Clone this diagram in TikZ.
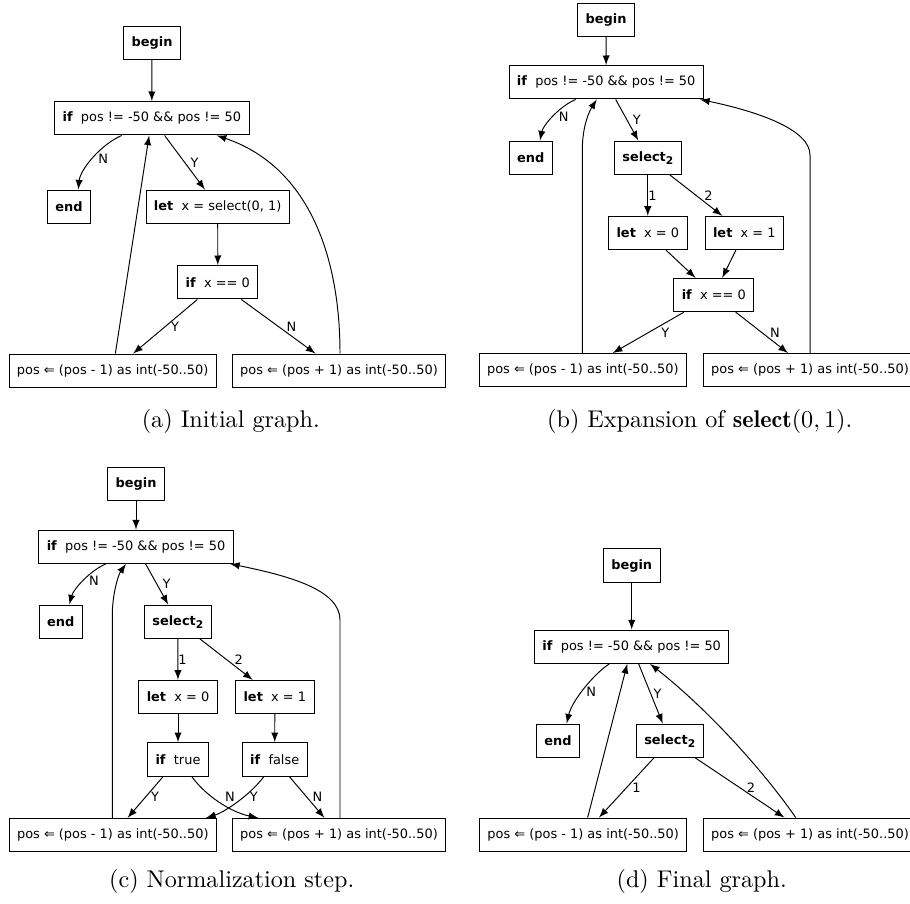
\documentclass[tikz,border=0pt]{standalone}
\usepackage{amsmath}
\usepackage{fontspec}
\newfontfamily\gvfont{DejaVu Sans}
\usetikzlibrary{arrows,positioning}
\newcommand{\selsub}{\textbf{select\raisebox{-0.4ex}{\fontsize{4.4}{5}\selectfont 2}}}

\begin{document}
\begin{tikzpicture}[x=0.414pt, y=-0.414pt,
  blk/.style={draw, rectangle, font=\gvfont\fontsize{5.35}{6.4}\selectfont,
    minimum height=13.8pt, inner xsep=3.3pt, inner ysep=0pt},
  lbl/.style={font=\gvfont\fontsize{5.35}{6.4}\selectfont, inner sep=2.2pt},
  flow/.style={-latex},
  captxt/.style={font=\normalsize}]
\useasboundingbox (0,0) rectangle (910,903);

\node[blk] (ba) at (152,42.7) {\textbf{begin}};
\node[blk] (ia) at (151.8,118.3) {\textbf{if}\ \ pos != -50 \&\& pos != 50};
\node[blk] (ea) at (69,206.7) {\textbf{end}};
\node[blk] (la) at (217.7,206.7) {\textbf{let}\ \ x = select(0, 1)};
\node[blk] (xa) at (217.8,282.3) {\textbf{if}\ \ x == 0};
\node[blk] (ma) at (112.7,370.7) {pos ⇐ (pos - 1) as int(-50..50)};
\node[blk] (pa) at (339,370.7) {pos ⇐ (pos + 1) as int(-50..50)};
\node[captxt] (ca) at (230.8,421.7) {(a) Initial graph.};

\draw[flow] (ba) -- (ia);
\draw[flow] (ia.south -| 121.7,0) .. controls (100,145) and (80,170) .. (ea.north -| 78.3,0) node[lbl,pos=.5,right] {N};
\draw[flow] (ia) -- node[lbl,right] {Y} (la);
\draw[flow] (la) -- (xa);
\draw[flow] (xa) -- node[lbl,right] {Y} (ma);
\draw[flow] (xa) -- node[lbl,right=1pt] {N} (pa);
\draw[flow] (ma) -- (ia);
\draw[flow] (pa.north -| 340,0) .. controls (340,250) and (305,165) .. (ia.south -| 216.7,0);

\node[blk] (bb) at (606,20) {\textbf{begin}};
\node[blk] (ib) at (606.2,82.3) {\textbf{if}\ \ pos != -50 \&\& pos != 50};
\node[blk] (eb) at (530.8,157.7) {\textbf{end}};
\node[blk] (sb) at (647.8,157.7) {\selsub};
\node[blk] (lb0) at (647.8,233) {\textbf{let}\ \ x = 0};
\node[blk] (lb1) at (744.3,233) {\textbf{let}\ \ x = 1};
\node[blk] (xb) at (713.8,295) {\textbf{if}\ \ x == 0};
\node[blk] (mb) at (582.8,370.2) {pos ⇐ (pos - 1) as int(-50..50)};
\node[blk] (pb) at (810,370.2) {pos ⇐ (pos + 1) as int(-50..50)};
\node[captxt] (cb) at (699.7,421.7) {(b) Expansion of $\mathbf{select}(0, 1)$.};

\draw[flow] (bb) -- (ib);
\draw[flow] (ib.south -| 575.7,0) .. controls (560,106) and (543,125) .. (eb.north -| 540,0) node[lbl,pos=.5,right] {N};
\draw[flow] (ib) -- node[lbl,right] {Y} (sb);
\draw[flow] (sb) -- node[lbl,right,inner sep=0pt] {1} (lb0);
\draw[flow] (sb) -- node[lbl,right=1pt] {2} (lb1);
\draw[flow] (lb0) -- (xb);
\draw[flow] (lb1) -- (xb);
\draw[flow] (xb) -- node[lbl,right=3pt] {Y} (mb);
\draw[flow] (xb) -- node[lbl,right=1pt] {N} (pb);
\draw[flow] (mb.north -| 582.3,0) -- (582.3,150) .. controls (582.3,125) and (590,110) .. (ib.south -| 596.7,0);
\draw[flow] (pb.north) -- (810,155) .. controls (810,130) and (760,112) .. (ib.south -| 700,0);

\node[blk] (bc) at (136,484) {\textbf{begin}};
\node[blk] (ic) at (136,546.7) {\textbf{if}\ \ pos != -50 \&\& pos != 50};
\node[blk] (ec) at (60.7,621.7) {\textbf{end}};
\node[blk] (sc) at (177.8,621.7) {\selsub};
\node[blk] (lc0) at (178,697) {\textbf{let}\ \ x = 0};
\node[blk] (lc1) at (274.8,697) {\textbf{let}\ \ x = 1};
\node[blk] (tc) at (178,759.3) {\textbf{if}\ \ true};
\node[blk] (fc) at (274.7,759.3) {\textbf{if}\ \ false};
\node[blk] (mc) at (112.8,835) {pos ⇐ (pos - 1) as int(-50..50)};
\node[blk] (pc) at (339,835) {pos ⇐ (pos + 1) as int(-50..50)};
\node[captxt] (cc) at (231.7,881.7) {(c) Normalization step.};

\draw[flow] (bc) -- (ic);
\draw[flow] (ic.south -| 106,0) .. controls (90.3,570.3) and (73.3,589.3) .. (ec.north -| 69.3,0) node[lbl,pos=.5,right] {N};
\draw[flow] (ic) -- node[lbl,right] {Y} (sc);
\draw[flow] (sc) -- node[lbl,right,inner sep=0pt] {1} (lc0);
\draw[flow] (sc) -- node[lbl,right=1pt] {2} (lc1);
\draw[flow] (lc0) -- (tc);
\draw[flow] (lc1) -- (fc);
\draw[flow] (tc) -- node[lbl,right] {Y} (mc);
\draw[flow] (tc.south -| 191.7,0) .. controls (205,795) and (230,812) .. (pc.north -| 258.3,0) node[lbl,pos=.5,right,yshift=2pt] {N};
\draw[flow] (fc.south -| 264,0) .. controls (250,795) and (225,812) .. (mc.north -| 206,0) node[lbl,pos=.5,right=3pt,yshift=2pt] {Y};
\draw[flow] (fc) -- node[lbl,right] {N} (pc);
\draw[flow] (mc.north -| 112.3,0) -- (112.3,615) .. controls (112.3,595) and (118,575) .. (ic.south -| 126,0);
\draw[flow] (pc.north -| 340,0) -- (340,620) .. controls (340,590) and (290,576) .. (ic.south -| 230,0);

\node[blk] (bd) at (631.7,565.5) {\textbf{begin}};
\node[blk] (id) at (631.7,646.7) {\textbf{if}\ \ pos != -50 \&\& pos != 50};
\node[blk] (ed) at (558,740.7) {\textbf{end}};
\node[blk] (sd) at (669.7,740.7) {\selsub};
\node[blk] (md) at (583.2,834.7) {pos ⇐ (pos - 1) as int(-50..50)};
\node[blk] (pd) at (810,834.7) {pos ⇐ (pos + 1) as int(-50..50)};
\node[captxt] (cd) at (701.7,881.7) {(d) Final graph.};

\draw[flow] (bd) -- (id);
\draw[flow] (id.south -| 609.3,0) .. controls (595,673) and (572,700) .. (ed.north -| 566.7,0) node[lbl,pos=.5,right,inner sep=0.5pt,yshift=-1.5pt] {N};
\draw[flow] (id) -- node[lbl,right,inner sep=1pt] {Y} (sd);
\draw[flow] (sd) -- node[lbl,right] {1} (md);
\draw[flow] (sd) -- node[lbl,right=0.5pt] {2} (pd);
\draw[flow] (md) -- (id);
\draw[flow] (pd.north -| 795.7,0) .. controls (770,780) and (715,715) .. (id.south -| 650,0);

\end{tikzpicture}
\end{document}
